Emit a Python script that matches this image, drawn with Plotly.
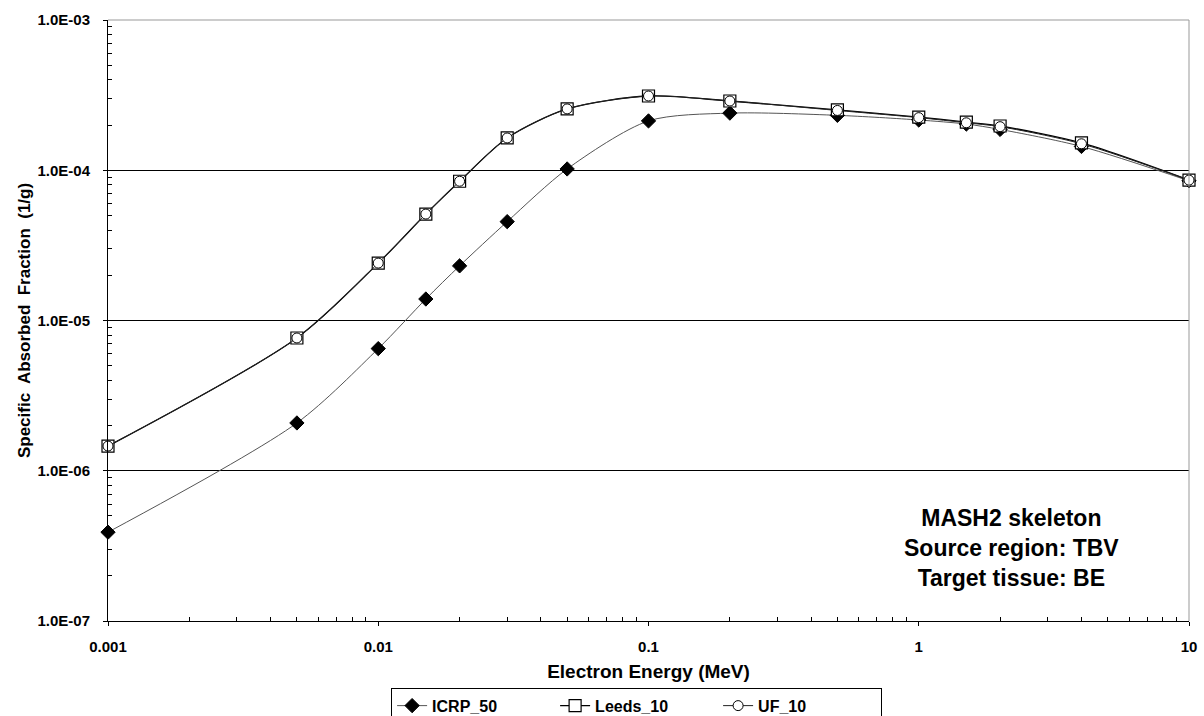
import plotly.graph_objects as go

energy = [0.001, 0.005, 0.01, 0.015, 0.02, 0.03, 0.05, 0.1, 0.2, 0.5, 1, 1.5, 2, 4, 10]
icrp_50 = [3.9e-7, 2.08e-6, 6.5e-6, 1.39e-5, 2.31e-5, 4.55e-5, 1.02e-4, 2.13e-4, 2.40e-4,
           2.32e-4, 2.16e-4, 2.03e-4, 1.87e-4, 1.44e-4, 8.5e-5]
leeds_10 = [1.46e-6, 7.65e-6, 2.41e-5, 5.11e-5, 8.45e-5, 1.64e-4, 2.56e-4, 3.12e-4, 2.89e-4,
            2.52e-4, 2.26e-4, 2.09e-4, 1.97e-4, 1.52e-4, 8.6e-5]
uf_10 = [1.46e-6, 7.65e-6, 2.41e-5, 5.11e-5, 8.45e-5, 1.64e-4, 2.56e-4, 3.12e-4, 2.89e-4,
         2.50e-4, 2.24e-4, 2.07e-4, 1.95e-4, 1.50e-4, 8.6e-5]

y_tickvals = [1e-7, 1e-6, 1e-5, 1e-4, 1e-3]
y_ticktext = ["1.0E-07", "1.0E-06", "1.0E-05", "1.0E-04", "1.0E-03"]
x_tickvals = [0.001, 0.01, 0.1, 1, 10]
x_ticktext = ["0.001", "0.01", "0.1", "1", "10"]

x_minor = [k * 10.0 ** e for e in range(-3, 1) for k in range(2, 10)]
y_minor = [k * 10.0 ** e for e in range(-7, -3) for k in range(2, 10)]

FONT = "Arial, Liberation Sans, sans-serif"

fig = go.Figure()
fig.add_trace(go.Scatter(
    x=energy, y=icrp_50, name="ICRP_50", mode="lines+markers", cliponaxis=False,
    line=dict(color="#555555", width=1, shape="spline", smoothing=0.8),
    marker=dict(symbol="diamond", size=11, color="black", line=dict(color="black", width=1)),
))
fig.add_trace(go.Scatter(
    x=energy, y=leeds_10, name="Leeds_10", mode="lines+markers", cliponaxis=False,
    line=dict(color="black", width=1.3, shape="spline", smoothing=0.8),
    marker=dict(symbol="square", size=12, color="white", line=dict(color="black", width=1.2)),
))
fig.add_trace(go.Scatter(
    x=energy, y=uf_10, name="UF_10", mode="lines+markers", cliponaxis=False,
    line=dict(color="#222222", width=1, shape="spline", smoothing=0.8),
    marker=dict(symbol="circle", size=10, color="white", line=dict(color="black", width=1)),
))

fig.add_annotation(
    x=0.836, y=0.121, xref="paper", yref="paper", xanchor="center", yanchor="middle",
    text="MASH2 skeleton<br>Source region: TBV<br>Target tissue: BE",
    showarrow=False, align="center",
    font=dict(family=FONT, size=23, color="black", weight="bold"),
)

fig.update_layout(
    width=1204, height=716,
    margin=dict(l=108, r=15, t=20, b=95, autoexpand=False),
    paper_bgcolor="white", plot_bgcolor="white",
    font=dict(family=FONT, color="black"),
    showlegend=True,
    legend=dict(
        orientation="h", x=0.489, xanchor="center", y=-0.111, yanchor="top",
        bordercolor="black", borderwidth=1, bgcolor="white",
        font=dict(family=FONT, size=16, weight="bold"),
        entrywidth=118, itemwidth=30,
    ),
    xaxis=dict(
        type="log", range=[-3, 1],
        tickvals=x_tickvals, ticktext=x_ticktext,
        tickfont=dict(family=FONT, size=15, weight="bold"),
        ticklabelstandoff=8,
        showline=True, linecolor="black", linewidth=1, mirror=False,
        ticks="outside", ticklen=4, tickcolor="black",
        showgrid=False, zeroline=False,
        minor=dict(tickvals=x_minor, ticks="inside", ticklen=4, tickcolor="black", showgrid=False),
        title=dict(text="Electron Energy (MeV)", font=dict(family=FONT, size=19, weight="bold"), standoff=10),
    ),
    yaxis=dict(
        type="log", range=[-7, -3],
        tickvals=y_tickvals, ticktext=y_ticktext,
        tickfont=dict(family=FONT, size=15, weight="bold"),
        ticklabelstandoff=10,
        showline=True, linecolor="black", linewidth=1,
        ticks="outside", ticklen=4, tickcolor="black",
        showgrid=True, gridcolor="black", gridwidth=1, zeroline=False,
        minor=dict(tickvals=y_minor, ticks="inside", ticklen=4, tickcolor="black", showgrid=False),
        title=dict(text="Specific  Absorbed  Fraction  (1/g)", font=dict(family=FONT, size=17, weight="bold"), standoff=2),
    ),
)

fig.add_shape(type="line", xref="paper", yref="paper", x0=1, x1=1, y0=0, y1=1,
              line=dict(color="#999999", width=1))
fig.add_shape(type="line", xref="paper", yref="paper", x0=0, x1=1, y0=1, y1=1,
              line=dict(color="#999999", width=1))

fig.write_html("out.html")
